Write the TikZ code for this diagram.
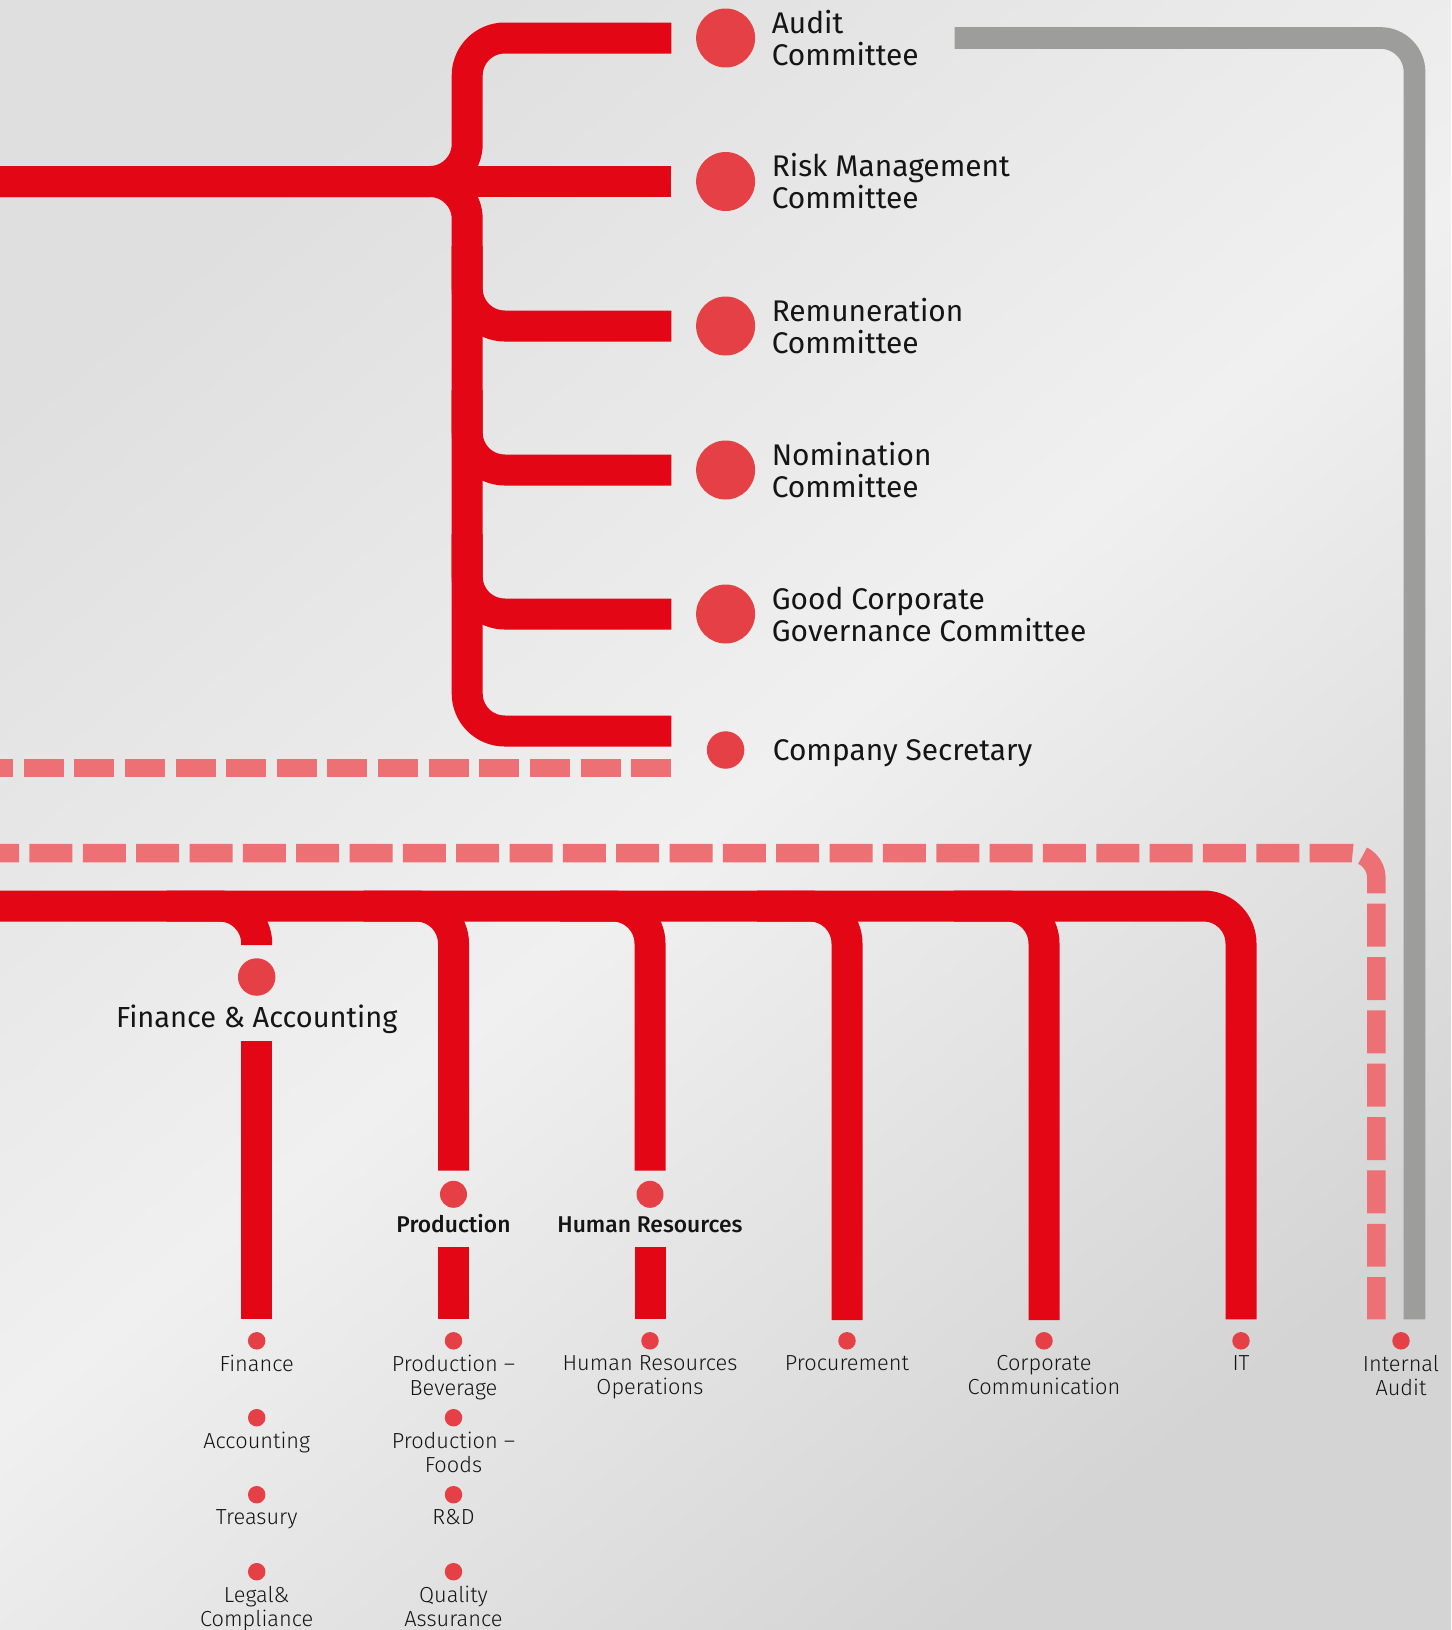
\documentclass[tikz,border=0pt]{standalone}
\usepackage{fontspec}
\setmainfont{Fira Sans}
\newfontfamily\lightfont{Fira Sans Light}
\newfontfamily\medfont{Fira Sans Medium}
\usetikzlibrary{positioning}

\definecolor{barred}{HTML}{E30614}
\definecolor{dotred}{HTML}{E54045}
\definecolor{dashred}{HTML}{ED7074}
\definecolor{linegrey}{HTML}{9D9D9C}
\definecolor{bgtl}{HTML}{DFDFDF}
\definecolor{bgmid}{HTML}{F0F0F0}
\definecolor{bgbr}{HTML}{D4D4D4}
\definecolor{inktext}{HTML}{151515}

\tikzset{
  redbar/.style={draw=barred, line width=0.62cm, rounded corners=0.75cm},
  dashbar/.style={draw=dashred, line width=0.37cm},
  greybar/.style={draw=linegrey, line width=0.434cm, rounded corners=0.68cm},
  bigdot/.style={circle, fill=dotred, inner sep=0, minimum size=1.18cm},
  middot/.style={circle, fill=dotred, inner sep=0, minimum size=0.75cm},
  headdot/.style={circle, fill=dotred, inner sep=0, minimum size=0.54cm},
  smalldot/.style={circle, fill=dotred, inner sep=0, minimum size=0.35cm},
  committee/.style={anchor=west, align=left, inner sep=0, text=inktext,
    font=\fontsize{17}{18.2}\selectfont},
  facc/.style={inner sep=0, text=inktext, font=\fontsize{16.5}{18}\selectfont},
  headlabel/.style={anchor=base, inner sep=0, text=inktext,
    font=\medfont\fontsize{13}{14}\selectfont},
  sublabel/.style={align=center, inner sep=0, text=inktext,
    font=\lightfont\fontsize{12.4}{13.66}\selectfont}
}

\begin{document}
\begin{tikzpicture}[x=0.02cm, y=-0.02cm]
  \useasboundingbox (0,0) rectangle (1451,1630);
  \clip (0,0) rectangle (1451,1630);
  \shade[top color=bgtl, bottom color=bgbr, middle color=bgmid, shading angle=40]
    (0,0) rectangle (1451,1630);

  \coordinate (hub) at (467.2,181.5);
  \coordinate (secend) at (671.4,731);
  \node[bigdot] (aud) at (725.6,38) {};
  \node[bigdot] (risk) at (725.6,181.5) {};
  \node[bigdot] (rem) at (725.6,326) {};
  \node[bigdot] (nom) at (725.6,470) {};
  \node[bigdot] (gcg) at (725.6,614) {};
  \node[middot] (sec) at (725.6,750) {};

  \draw[redbar] (0,181.5) -| (hub |- aud) -- ([xshift=-1.084cm]aud.center);
  \draw[redbar] (0,181.5) -| (hub |- secend) -- (secend);
  \draw[redbar] (hub) -- ([xshift=-1.084cm]risk.center);
  \foreach \n/\y in {rem/326, nom/470, gcg/614}
    \draw[redbar] (467.2,\y-80) |- ([xshift=-1.084cm]\n.center);

  \node[committee, right=0.32cm of aud] (audT) {Audit\\Committee};
  \node[committee, right=0.32cm of risk] (riskT) {Risk Management\\Committee};
  \node[committee, right=0.32cm of rem] (remT) {Remuneration\\Committee};
  \node[committee, right=0.32cm of nom] (nomT) {Nomination\\Committee};
  \node[committee, right=0.32cm of gcg] (gcgT) {Good Corporate\\Governance Committee};
  \node[committee, anchor=base west] (secT) at (772.5,760) {Company Secretary};

  \draw[greybar] (954.5,38) -| (1414.5,1319.3);
  \draw[dashbar, dash pattern=on 0.8cm off 0.2128cm] (-27,768) -- (secend |- 0,768);
  \draw[dashbar, rounded corners=0.5cm, dash pattern=on 0.86cm off 0.207cm]
    (-23.85,853) -| (1376.4,1319.3);

  \draw[redbar] (0,906) -| (1241,1319.3);
  \foreach \x/\e in {256.7/945, 453.5/1170.7, 650/1170.7, 847/1320, 1044/1320}
    \draw[redbar] (\x-90,906) -| (\x,\e);
  \foreach \x/\s in {256.7/1041, 453.5/1246.7, 650/1246.7}
    \draw[redbar] (\x,\s) -- (\x,1318.5);

  \node[middot] (fa) at (256.7,977) {};
  \node[facc, below=0.17cm of fa] (faT) {Finance \& Accounting};
  \node[headdot] (prod) at (453.5,1194.3) {};
  \node[headlabel] (prodT) at (453.5,1232) {Production};
  \node[headdot] (hr) at (650,1194.3) {};
  \node[headlabel] (hrT) at (650,1232) {Human Resources};

  \node[smalldot] (fin) at (256.7,1340.8) {};
  \node[smalldot] (acc) at (256.7,1417.7) {};
  \node[smalldot] (tre) at (256.7,1494.7) {};
  \node[smalldot] (leg) at (256.7,1571.7) {};
  \node[sublabel, below=0.1cm of fin] (finT) {Finance};
  \node[sublabel, below=0.1cm of acc] (accT) {Accounting};
  \node[sublabel, below=0.1cm of tre] (treT) {Treasury};
  \node[sublabel, below=0.1cm of leg] (legT) {Legal\&\\Compliance};

  \node[smalldot] (bev) at (453.5,1340.8) {};
  \node[smalldot] (foo) at (453.5,1417.7) {};
  \node[smalldot] (rnd) at (453.5,1494.7) {};
  \node[smalldot] (qa) at (453.5,1571.7) {};
  \node[sublabel, below=0.1cm of bev] (bevT) {Production –\\Beverage};
  \node[sublabel, below=0.1cm of foo] (fooT) {Production –\\Foods};
  \node[sublabel, below=0.1cm of rnd] (rndT) {R\&D};
  \node[sublabel, below=0.1cm of qa] (qaT) {Quality\\Assurance};

  \node[smalldot] (hro) at (650,1340.8) {};
  \node[sublabel, below=0.1cm of hro] (hroT) {Human Resources\\Operations};
  \node[smalldot] (pro) at (847,1340.8) {};
  \node[sublabel, below=0.1cm of pro] (proT) {Procurement};
  \node[smalldot] (cc) at (1044,1340.8) {};
  \node[sublabel, below=0.1cm of cc] (ccT) {Corporate\\Communication};
  \node[smalldot] (it) at (1241,1340.8) {};
  \node[sublabel, below=0.1cm of it] (itT) {IT};
  \node[smalldot] (ia) at (1401,1340.8) {};
  \node[sublabel, below=0.1cm of ia] (iaT) {Internal\\Audit};
\end{tikzpicture}
\end{document}
